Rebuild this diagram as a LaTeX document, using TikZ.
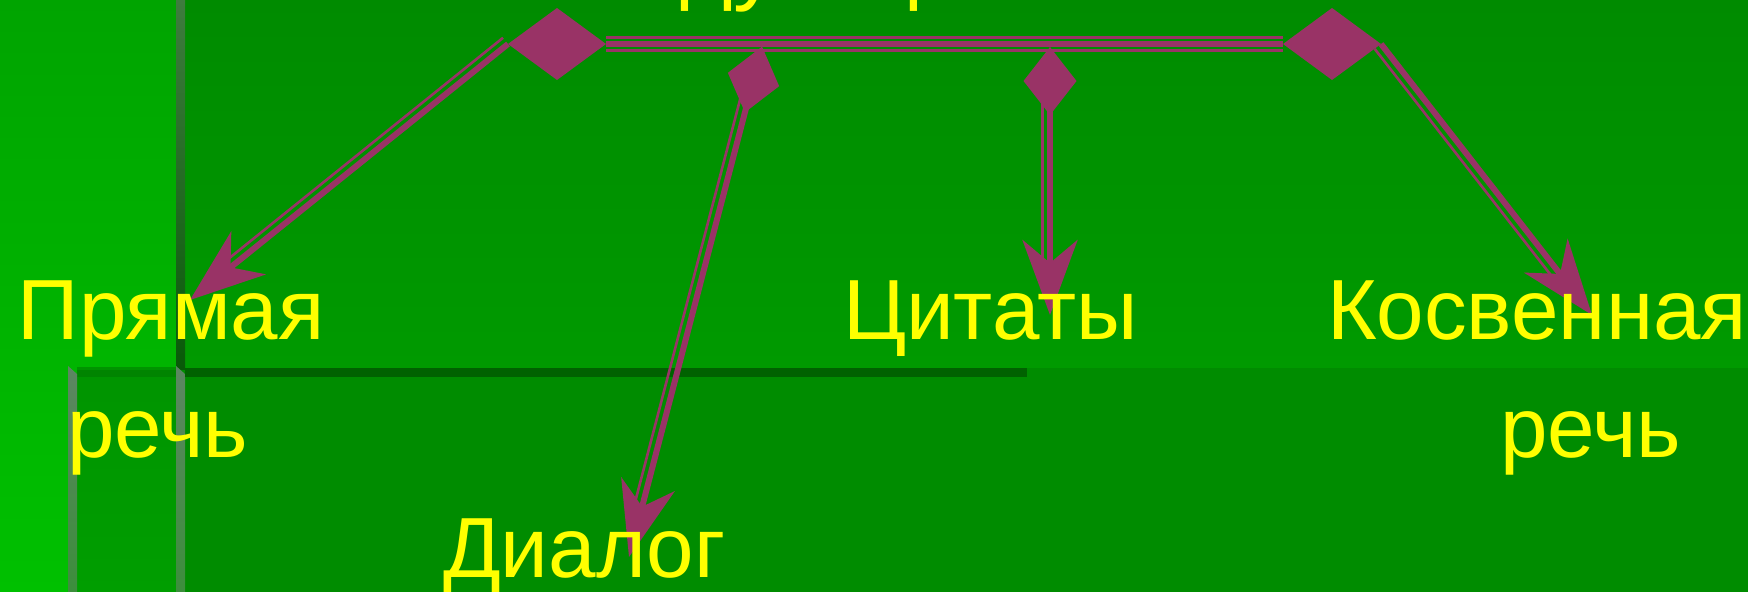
\documentclass[tikz,border=0pt]{standalone}
\usepackage{fontspec}
\setmainfont{Liberation Sans}
\usetikzlibrary{shapes.geometric,arrows.meta}
\definecolor{bgmain}{RGB}{0,140,0}
\definecolor{bandtop}{RGB}{0,139,0}
\definecolor{bandbot}{RGB}{0,154,0}
\definecolor{colA}{RGB}{0,164,0}
\definecolor{colB}{RGB}{0,192,0}
\definecolor{panA}{RGB}{0,148,0}
\definecolor{panB}{RGB}{0,158,0}
\definecolor{vlA}{RGB}{62,124,62}
\definecolor{vlM}{RGB}{30,108,30}
\definecolor{vlB}{RGB}{8,90,8}
\definecolor{edA}{RGB}{92,134,98}
\definecolor{edB}{RGB}{60,142,60}
\definecolor{darkln}{RGB}{0,98,0}
\definecolor{darkln2}{RGB}{0,132,0}
\definecolor{arr}{RGB}{153,51,102}
\definecolor{txt}{RGB}{255,255,0}
\begin{document}
\begin{tikzpicture}[x=0.5pt,y=-0.5pt,
  lbl/.style={text=txt,font=\fontsize{42.7}{50}\selectfont,inner sep=0,outer sep=0,anchor=base west},
  ttl/.style={text=txt,font=\fontsize{45}{54}\selectfont,inner sep=0,outer sep=0,anchor=base west},
  bigdia/.style={diamond,fill=arr,minimum width=49pt,minimum height=36pt,inner sep=0,outer sep=0},
  smalldia/.style={diamond,fill=arr,minimum width=26.5pt,minimum height=34pt,inner sep=0,outer sep=0},
  thickln/.style={draw=arr,line width=3pt},
  thinln/.style={draw=arr,line width=1.3pt},
  hthin/.style={draw=arr,line width=1.5pt},
  tipped/.style={-{Stealth[length=37.5pt,width=27.5pt,inset=11.5pt]}},
  thinend/.style={shorten >=27pt}
]
\useasboundingbox (0,0) rectangle (1748,592);
\clip (0,0) rectangle (1748,592);
% background
\fill[bgmain] (0,0) rectangle (1748,592);
\shade[top color=bandtop,bottom color=bandbot] (185,0) rectangle (1748,368);
\shade[top color=colA,bottom color=colB] (0,0) rectangle (176,592);
\shade[top color=panA,bottom color=panB] (77,368) rectangle (176,592);
\fill[darkln2] (77,370) rectangle (176,377);
\shade[top color=vlA,middle color=vlM,bottom color=vlB] (176,0) rectangle (185,370);
\shade[top color=edA,bottom color=edB] (176,366) -- (185,374) -- (185,592) -- (176,592) -- cycle;
\shade[top color=edA,bottom color=edB] (68,366) -- (77,374) -- (77,592) -- (68,592) -- cycle;
\fill[darkln] (185,368) rectangle (1027,377);

% title line, cut off at the top edge as in the reference
\node[ttl] (title) at (535,-6) {следующие};

% coordinates of arrow tips
\coordinate (tPr) at (190,300);
\coordinate (tDi) at (629,557);
\coordinate (tCi) at (1050,315);
\coordinate (tKo) at (1592,315);

% diamonds
\node[bigdia] (d1) at (557,44) {};
\node[bigdia] (d2) at (1332,44) {};
\node[smalldia,rotate=-14.6] (d3) at (753.5,79.5) {};
\node[smalldia] (d4) at (1050,81) {};

% horizontal triple line
\draw[thickln] (d1.east) -- (d2.west);
\draw[hthin,transform canvas={shift={(0,-3.25pt)}}] (d1.east) -- (d2.west);
\draw[hthin,transform canvas={shift={(0,3.25pt)}}] (d1.east) -- (d2.west);

% arrows
\draw[thickln,tipped] (d1.west) -- (tPr);
\draw[thinln,thinend,transform canvas={shift={(-2.5pt,3.1pt)}}] (d1.west) -- (tPr);

\draw[thickln,tipped] (d3.center) -- (tDi);
\draw[thinln,thinend,transform canvas={shift={(-3.85pt,1pt)}}] (d3.center) -- (tDi);

\draw[thickln,tipped] (d4.center) -- (tCi);
\draw[thinln,thinend,transform canvas={shift={(-3.75pt,0pt)}}] (d4.center) -- (tCi);

\draw[thickln,tipped] (d2.east) -- (tKo);
\draw[thinln,thinend,transform canvas={shift={(-3.15pt,-2.45pt)}}] (d2.east) -- (tKo);

% labels
\node[lbl] (pr1) at (18,340) {Прямая};
\node[lbl] (pr2) at (67,458) {речь};
\node[lbl] (dia) at (443,577) {Диалог};
\node[lbl] (cit) at (843,340) {Цитаты};
\node[lbl] (ko1) at (1327,340) {Косвенная};
\node[lbl] (ko2) at (1500,458) {речь};
\end{tikzpicture}
\end{document}
